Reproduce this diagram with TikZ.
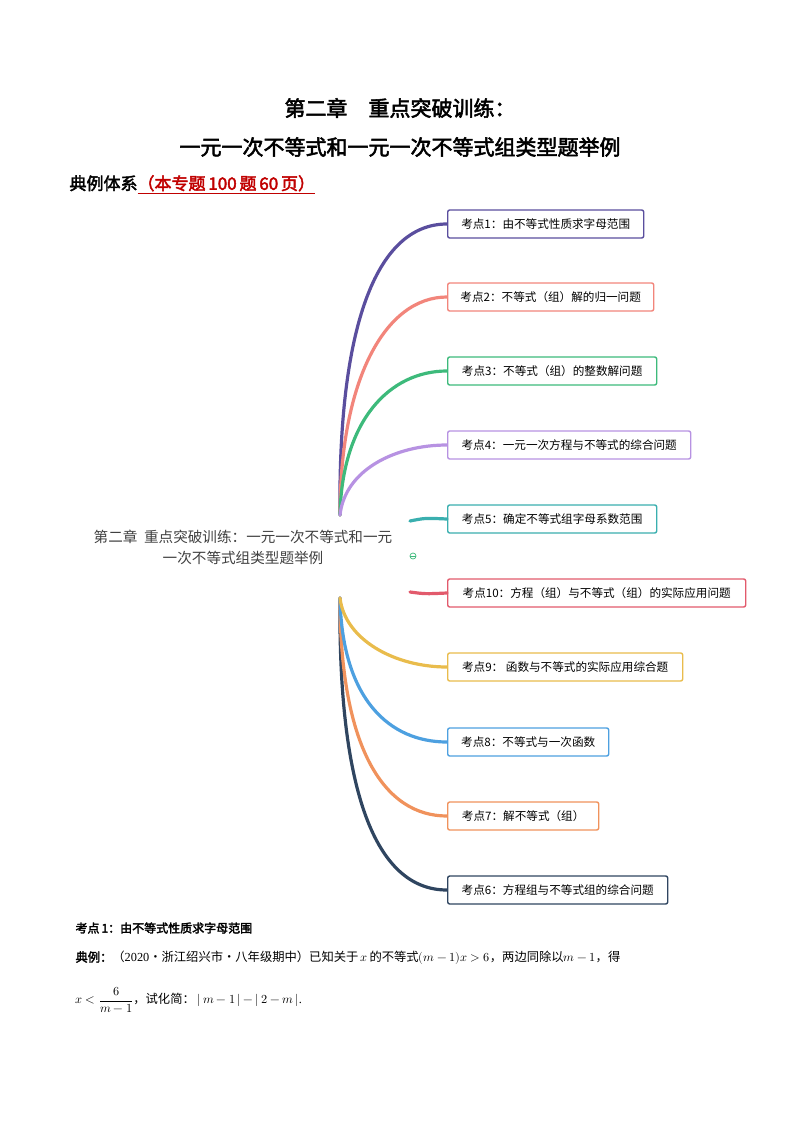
\documentclass[tikz,border=0pt]{standalone}
\usepackage{fontspec}
\usepackage{unicode-math}
\setmainfont{Liberation Serif}
\setmathfont{Latin Modern Math}
\newfontfamily\cjk{Noto Sans CJK SC}
\newfontfamily\cjkb{Noto Sans CJK SC}[AutoFakeBold=2.5]
\begin{document}
\begin{tikzpicture}[x=1pt,y=-1pt,
  kbox/.style={draw=#1,line width=1.4pt,rounded corners=2pt,minimum height=28pt,anchor=west,inner xsep=8pt,fill=white,font=\cjk\fontsize{11.6}{13}\selectfont},
  br/.style={draw=#1,line width=3.2pt,line cap=round}]
\useasboundingbox (0,0) rectangle (800,1132);
\definecolor{c1}{HTML}{5A4E9E}\definecolor{c2}{HTML}{F2857B}\definecolor{c3}{HTML}{3DBA7B}
\definecolor{c4}{HTML}{B792E2}\definecolor{c5}{HTML}{3AAFAF}\definecolor{c10}{HTML}{E25A6C}
\definecolor{c9}{HTML}{E9BC4C}\definecolor{c8}{HTML}{4DA0E0}\definecolor{c7}{HTML}{F0925C}
\definecolor{c6}{HTML}{2F4560}
\node (t1) at (400,108) {\cjkb\bfseries\fontsize{21}{24}\selectfont 第二章\quad 重点突破训练：};
\node (t2) at (400,147) {\cjkb\bfseries\fontsize{21}{24}\selectfont 一元一次不等式和一元一次不等式组类型题举例};
\node[anchor=west] (t3) at (66,185) {\cjkb\bfseries\fontsize{17}{20}\selectfont 典例体系\textcolor[HTML]{C00000}{\underline{（本专题\,100\,题\,60\,页）}}};
\node[align=center,font=\cjk\fontsize{14.6}{21}\selectfont,text=black!75] (root) at (243,547) {第二章\ \ 重点突破训练：一元一次不等式和一元\\一次不等式组类型题举例};
\coordinate (top) at (340,515);
\coordinate (bot) at (340,598);
\draw[br=c1] (top) .. controls (338,330) and (375,224) .. (447,224);
\draw[br=c2] (top) .. controls (340,380) and (385,297) .. (447,297);
\draw[br=c3] (top) .. controls (342,420) and (390,371) .. (447,371);
\draw[br=c4] (top) .. controls (345,470) and (395,445) .. (447,445);
\draw[br=c6] (bot) .. controls (338,790) and (375,890) .. (447,890);
\draw[br=c7] (bot) .. controls (340,750) and (385,816) .. (447,816);
\draw[br=c8] (bot) .. controls (342,700) and (390,742) .. (447,742);
\draw[br=c9] (bot) .. controls (345,640) and (395,667) .. (447,667);
\node[kbox=c1,minimum width=196pt] (k1) at (447,224) {考点1：由不等式性质求字母范围};
\node[kbox=c2,minimum width=206pt] (k2) at (447,297) {考点2：不等式（组）解的归一问题};
\node[kbox=c3,minimum width=209pt] (k3) at (447,371) {考点3：不等式（组）的整数解问题};
\node[kbox=c4,minimum width=243pt] (k4) at (447,445) {考点4：一元一次方程与不等式的综合问题};
\node[kbox=c5,minimum width=209pt] (k5) at (447,519) {考点5：确定不等式组字母系数范围};
\node[kbox=c10,minimum width=298pt] (k10) at (447,593) {考点10：方程（组）与不等式（组）的实际应用问题};
\node[kbox=c9,minimum width=235pt] (k9) at (447,667) {考点9：\ 函数与不等式的实际应用综合题};
\node[kbox=c8,minimum width=161pt] (k8) at (447,742) {考点8：不等式与一次函数};
\node[kbox=c7,minimum width=151pt] (k7) at (447,816) {考点7：解不等式（组）};
\node[kbox=c6,minimum width=220pt] (k6) at (447,890) {考点6：方程组与不等式组的综合问题};
\coordinate (s5) at (410,521);
\coordinate (s10) at (410,592);
\draw[br=c5] (s5) .. controls (425,518) .. (k5.west);
\draw[br=c10] (s10) .. controls (425,594) .. (k10.west);
\node[circle,draw=c3,line width=0.7pt,inner sep=0pt,minimum size=6pt] (tog) at (413,556) {};
\draw[c3,line width=0.7pt] (tog.west) -- (tog.east);
\node[anchor=west] (h1) at (72,928) {\cjkb\bfseries\fontsize{12}{14}\selectfont 考点\,1：由不等式性质求字母范围};
\node[anchor=west] (h2) at (72,958) {\fontsize{12.3}{14}\selectfont{\cjkb\bfseries 典例：}{\cjk（}2020{\cjk·浙江绍兴市·八年级期中）已知关于}\,$x$\,{\cjk 的不等式}$(m-1)x>6${\cjk，两边同除以}$m-1${\cjk，得}};
\node[anchor=west] (h3) at (72,1000) {\fontsize{12.3}{14}\selectfont $x<\displaystyle\frac{6}{m-1}${\cjk，试化简：}\ $|\,m-1\,|-|\,2-m\,|$.};
\end{tikzpicture}
\end{document}
